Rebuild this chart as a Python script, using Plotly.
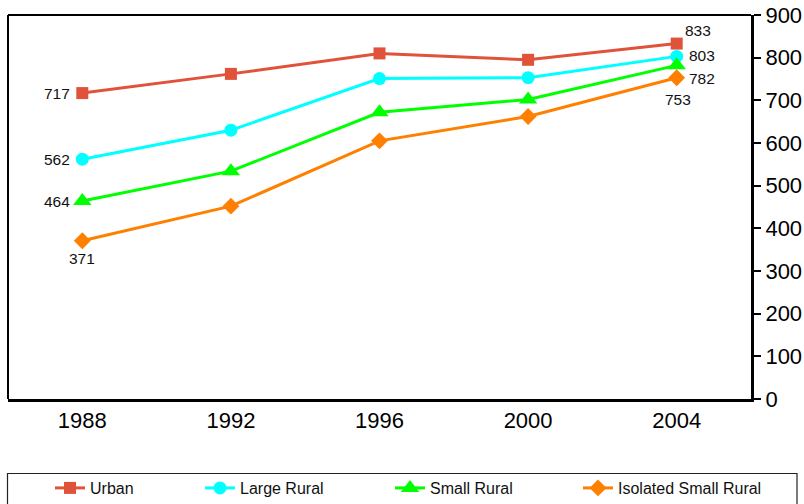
import plotly.graph_objects as go

# Survey years and series values
years = [1988, 1992, 1996, 2000, 2004]
urban = [717, 762, 810, 795, 833]
large_rural = [562, 630, 751, 753, 803]
small_rural = [464, 534, 672, 702, 782]
isolated_small_rural = [371, 452, 605, 662, 753]

y_ticks = [0, 100, 200, 300, 400, 500, 600, 700, 800, 900]

# name, values, colour, marker symbol, marker size,
# (first label anchor, xshift, yshift), (last label anchor, xshift, yshift)
series = [
    ("Urban", urban, "#E0533A", "square", 12,
     ("right", -10, 0), ("center", 21, 13)),
    ("Large Rural", large_rural, "#00FFFF", "circle", 13,
     ("right", -10, 0), ("left", 10, 1)),
    ("Small Rural", small_rural, "#00FF00", "triangle-up", 16,
     ("right", -10, 0), ("left", 10, -13)),
    ("Isolated Small Rural", isolated_small_rural, "#FF8000", "diamond", 13,
     ("center", 0, -18), ("center", 1, -22)),
]

legend_x_px = [50, 200, 390, 578]
W, H = 804, 504
FONT = "Arial, Liberation Sans, sans-serif"

fig = go.Figure()
annotations = []
for i, (name, vals, color, sym, msize, first, last) in enumerate(series):
    fig.add_trace(go.Scatter(
        x=years, y=vals, name=name,
        mode="lines+markers",
        line=dict(color=color, width=3),
        marker=dict(symbol=sym, size=msize, color=color),
        cliponaxis=False,
        legend="legend" if i == 0 else f"legend{i + 1}",
    ))
    for idx, (anchor, dx, dy) in ((0, first), (-1, last)):
        annotations.append(dict(
            x=years[idx], y=vals[idx], xref="x", yref="y",
            text=str(vals[idx]), showarrow=False,
            xanchor=anchor, yanchor="middle", xshift=dx, yshift=dy,
            font=dict(family=FONT, size=15.5, color="#111111"),
        ))

legend_common = dict(
    orientation="h", xref="container", yref="container",
    xanchor="left", yanchor="middle", y=(H - 488) / H,
    bgcolor="rgba(0,0,0,0)", borderwidth=0,
    font=dict(family=FONT, size=16, color="#111111"),
)
legends = {}
for i, px in enumerate(legend_x_px):
    key = "legend" if i == 0 else f"legend{i + 1}"
    legends[key] = dict(legend_common, x=px / W)

# plot area in pixels: x 8..751, y 15..399
pl, pr, pt, pb = 8, 751, 15, 399
pw, ph = pr - pl, pb - pt

def px_x(v):
    return (v - pl) / pw

def px_y(v):
    return (pb - v) / ph

fig.update_layout(
    width=W, height=H,
    margin=dict(l=pl, r=W - pr, t=pt, b=H - pb, autoexpand=False),
    paper_bgcolor="white", plot_bgcolor="white",
    showlegend=True,
    **legends,
    annotations=annotations,
    xaxis=dict(
        range=[1986, 2006], tickvals=years, ticktext=[str(y) for y in years],
        showline=True, linecolor="black", linewidth=3, ticks="",
        showgrid=False, zeroline=False, automargin=False,
        tickfont=dict(family=FONT, size=22, color="black"),
    ),
    yaxis=dict(
        range=[0, 900], side="right", tickvals=y_ticks,
        showline=True, linecolor="black", linewidth=3,
        ticks="outside", ticklen=7, tickwidth=1.5, tickcolor="black",
        showgrid=False, zeroline=False, automargin=False,
        tickfont=dict(family=FONT, size=22, color="black"),
    ),
    shapes=[
        # left and top frame lines of the plot area
        dict(type="line", xref="paper", yref="paper", x0=0, x1=0, y0=0, y1=1,
             line=dict(color="black", width=2), layer="above"),
        dict(type="line", xref="paper", yref="paper", x0=0, x1=1, y0=1, y1=1,
             line=dict(color="black", width=2), layer="above"),
        # legend box
        dict(type="rect", xref="paper", yref="paper",
             x0=px_x(7.5), x1=px_x(797), y0=px_y(473.5), y1=px_y(520),
             line=dict(color="#222222", width=1.2), fillcolor="rgba(0,0,0,0)"),
    ],
)

fig.write_html("out.html")
